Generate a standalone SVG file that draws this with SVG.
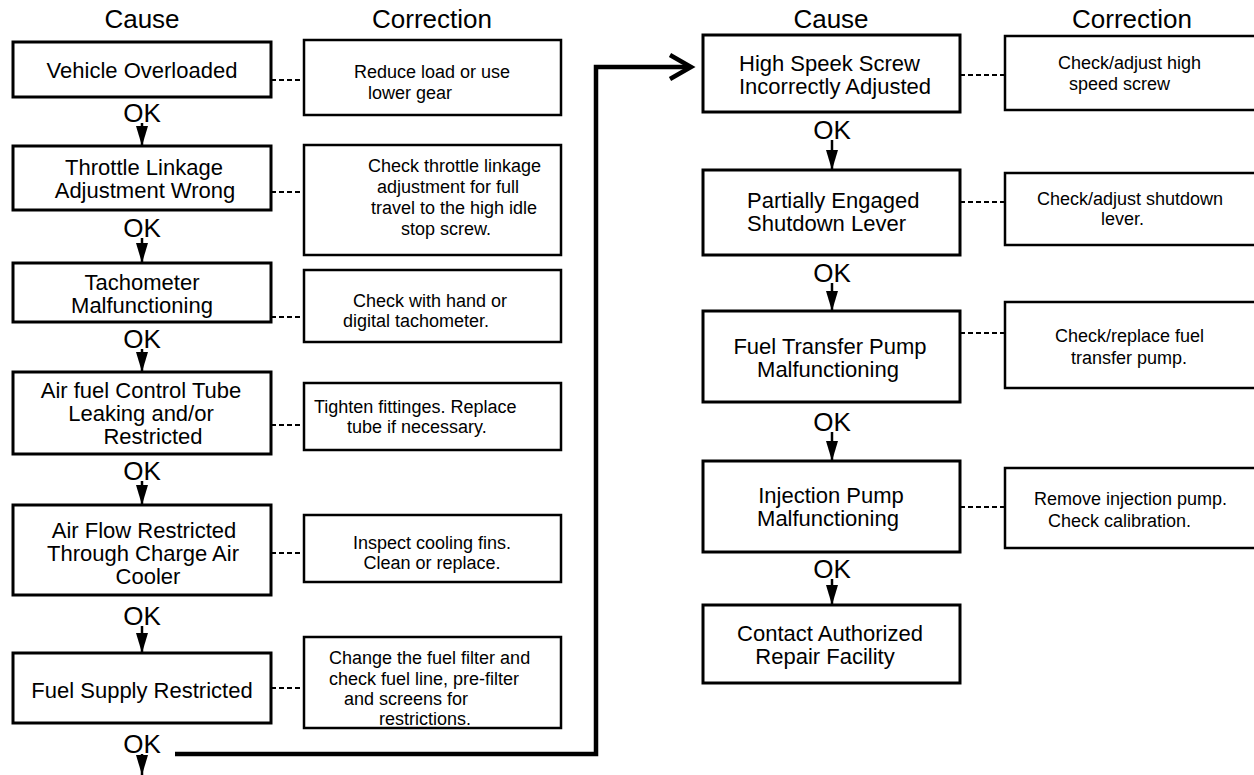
<svg xmlns="http://www.w3.org/2000/svg" width="1254" height="775" viewBox="0 0 1254 775">
<defs>
<style>
text{font-family:"Liberation Sans",Arial,sans-serif;fill:#000}
.hd{font-size:26px;text-anchor:middle}
.ok{font-size:26px;text-anchor:middle}
.c{font-size:22px;text-anchor:middle}
.cs{font-size:22px}
.r{font-size:18px;text-anchor:middle}
.rs{font-size:18px}
.box{fill:#fff;stroke:#000;stroke-width:3}
.cbox{fill:#fff;stroke:#000;stroke-width:2.5}
.dash{stroke:#000;stroke-width:2;stroke-dasharray:5 3;fill:none}
.flow{stroke:#000;stroke-width:2.5;fill:none;marker-end:url(#tri)}
.main{stroke:#000;stroke-width:4.5;fill:none;stroke-linejoin:miter}
</style>
<marker id="tri" viewBox="0 0 20 12" refX="20" refY="6" markerWidth="20" markerHeight="12" markerUnits="userSpaceOnUse" orient="auto">
<path d="M0,0 L20,6 L0,12 Z" fill="#000"/>
</marker>
</defs>

<g id="headers">
<text class="hd" x="142" y="28">Cause</text>
<text class="hd" x="432" y="28">Correction</text>
<text class="hd" x="831" y="28">Cause</text>
<text class="hd" x="1132" y="28">Correction</text>
</g>

<g id="connectors">
<line class="dash" x1="271" y1="80" x2="304" y2="80"/>
<line class="dash" x1="271" y1="192" x2="304" y2="192"/>
<line class="dash" x1="271" y1="317" x2="304" y2="317"/>
<line class="dash" x1="271" y1="425" x2="304" y2="425"/>
<line class="dash" x1="271" y1="553" x2="304" y2="553"/>
<line class="dash" x1="271" y1="688" x2="304" y2="688"/>
<line class="dash" x1="960" y1="75" x2="1005" y2="75"/>
<line class="dash" x1="960" y1="202" x2="1005" y2="202"/>
<line class="dash" x1="960" y1="333" x2="1005" y2="333"/>
<line class="dash" x1="960" y1="507" x2="1005" y2="507"/>
<text class="ok" x="142" y="122">OK</text>
<line class="flow" x1="142" y1="123" x2="142" y2="146"/>
<text class="ok" x="142" y="237">OK</text>
<line class="flow" x1="142" y1="238" x2="142" y2="263"/>
<text class="ok" x="142" y="348">OK</text>
<line class="flow" x1="142" y1="349" x2="142" y2="372"/>
<text class="ok" x="142" y="480">OK</text>
<line class="flow" x1="142" y1="481" x2="142" y2="505"/>
<text class="ok" x="142" y="625">OK</text>
<line class="flow" x1="142" y1="626" x2="142" y2="653"/>
<text class="ok" x="142" y="753">OK</text>
<line class="flow" x1="142" y1="754" x2="142" y2="775"/>
<text class="ok" x="832" y="139">OK</text>
<line class="flow" x1="832" y1="140" x2="832" y2="170"/>
<text class="ok" x="832" y="282">OK</text>
<line class="flow" x1="832" y1="283" x2="832" y2="311"/>
<text class="ok" x="832" y="431">OK</text>
<line class="flow" x1="832" y1="432" x2="832" y2="461"/>
<text class="ok" x="832" y="578">OK</text>
<line class="flow" x1="832" y1="579" x2="832" y2="605"/>
<polyline class="main" points="175,754 596,754 596,67 690,67"/>
<polyline class="main" points="670,55 691,67 670,79" stroke-width="4"/>
</g>

<g id="n1">
<rect class="box" x="13" y="42" width="258" height="55"/>
<text class="c" x="142" y="78">Vehicle Overloaded</text>
</g>
<g id="n1c">
<rect class="cbox" x="304" y="40" width="257" height="75"/>
<text class="r" x="432" y="78">Reduce load or use</text>
<text class="r" x="410" y="99">lower gear</text>
</g>

<g id="n2">
<rect class="box" x="13" y="146" width="258" height="64"/>
<text class="c" x="144" y="175">Throttle Linkage</text>
<text class="c" x="145" y="198">Adjustment Wrong</text>
</g>
<g id="n2c">
<rect class="cbox" x="304" y="145" width="257" height="110"/>
<text class="rs" x="368" y="172">Check throttle linkage</text>
<text class="rs" x="377" y="193">adjustment for full</text>
<text class="rs" x="371" y="214">travel to the high idle</text>
<text class="rs" x="401" y="235">stop screw.</text>
</g>

<g id="n3">
<rect class="box" x="13" y="263" width="258" height="59"/>
<text class="c" x="142" y="290">Tachometer</text>
<text class="c" x="142" y="313">Malfunctioning</text>
</g>
<g id="n3c">
<rect class="cbox" x="304" y="270" width="257" height="72"/>
<text class="rs" x="353" y="307">Check with hand or</text>
<text class="rs" x="343" y="327">digital tachometer.</text>
</g>

<g id="n4">
<rect class="box" x="13" y="372" width="258" height="82"/>
<text class="c" x="141" y="398">Air fuel Control Tube</text>
<text class="c" x="141" y="421">Leaking and/or</text>
<text class="c" x="153" y="444">Restricted</text>
</g>
<g id="n4c">
<rect class="cbox" x="304" y="383" width="257" height="67"/>
<text class="rs" x="314" y="413">Tighten fittinges. Replace</text>
<text class="rs" x="347" y="433">tube if necessary.</text>
</g>

<g id="n5">
<rect class="box" x="13" y="505" width="258" height="90"/>
<text class="c" x="144" y="538">Air Flow Restricted</text>
<text class="c" x="143" y="561">Through Charge Air</text>
<text class="c" x="148" y="584">Cooler</text>
</g>
<g id="n5c">
<rect class="cbox" x="304" y="515" width="257" height="67"/>
<text class="r" x="432" y="549">Inspect cooling fins.</text>
<text class="r" x="432" y="569">Clean or replace.</text>
</g>

<g id="n6">
<rect class="box" x="13" y="653" width="258" height="70"/>
<text class="c" x="142" y="698">Fuel Supply Restricted</text>
</g>
<g id="n6c">
<rect class="cbox" x="304" y="637" width="257" height="91"/>
<text class="rs" x="329" y="664">Change the fuel filter and</text>
<text class="rs" x="329" y="685">check fuel line, pre-filter</text>
<text class="rs" x="344" y="705">and screens for</text>
<text class="rs" x="379" y="725">restrictions.</text>
</g>

<g id="n7">
<rect class="box" x="703" y="35" width="257" height="77"/>
<text class="cs" x="739" y="71">High Speek Screw</text>
<text class="cs" x="739" y="94">Incorrectly Adjusted</text>
</g>
<g id="n7c">
<rect class="cbox" x="1005" y="36" width="257" height="74"/>
<text class="rs" x="1058" y="69">Check/adjust high</text>
<text class="rs" x="1069" y="90">speed screw</text>
</g>

<g id="n8">
<rect class="box" x="703" y="170" width="257" height="85"/>
<text class="cs" x="747" y="208">Partially Engaged</text>
<text class="cs" x="747" y="231">Shutdown Lever</text>
</g>
<g id="n8c">
<rect class="cbox" x="1005" y="173" width="257" height="72"/>
<text class="rs" x="1037" y="205">Check/adjust shutdown</text>
<text class="rs" x="1101" y="225">lever.</text>
</g>

<g id="n9">
<rect class="box" x="703" y="311" width="257" height="91"/>
<text class="c" x="830" y="354">Fuel Transfer Pump</text>
<text class="c" x="828" y="377">Malfunctioning</text>
</g>
<g id="n9c">
<rect class="cbox" x="1005" y="302" width="257" height="86"/>
<text class="rs" x="1055" y="342">Check/replace fuel</text>
<text class="rs" x="1071" y="364">transfer pump.</text>
</g>

<g id="n10">
<rect class="box" x="703" y="461" width="257" height="91"/>
<text class="c" x="831" y="503">Injection Pump</text>
<text class="c" x="828" y="526">Malfunctioning</text>
</g>
<g id="n10c">
<rect class="cbox" x="1005" y="468" width="257" height="80"/>
<text class="rs" x="1034" y="505">Remove injection pump.</text>
<text class="rs" x="1048" y="527">Check calibration.</text>
</g>

<g id="n11">
<rect class="box" x="703" y="605" width="257" height="78"/>
<text class="c" x="830" y="641">Contact Authorized</text>
<text class="c" x="825" y="664">Repair Facility</text>
</g>
</svg>
